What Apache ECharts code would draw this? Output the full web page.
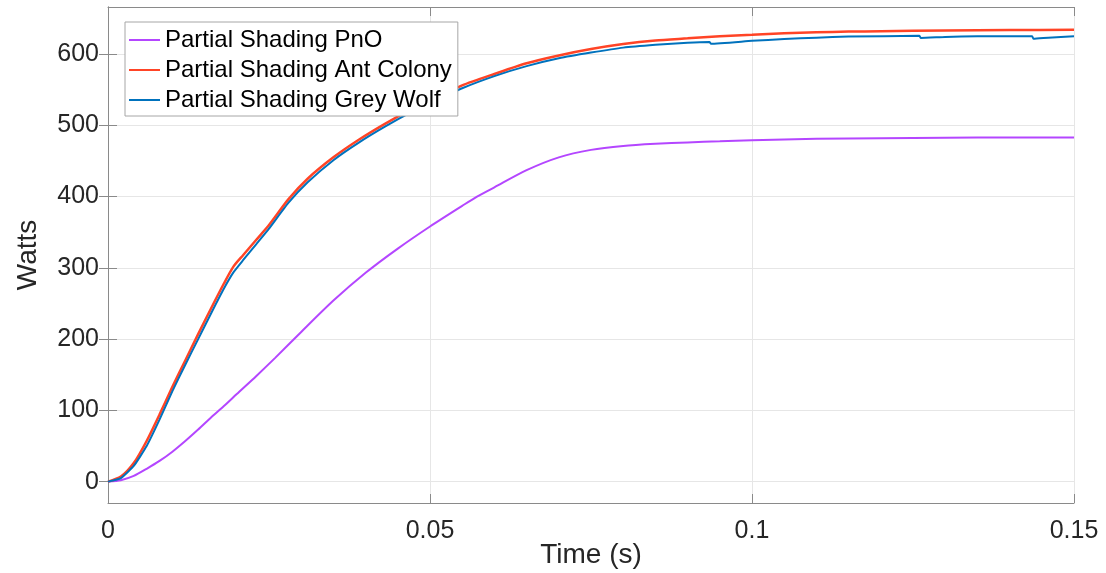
<!DOCTYPE html>
<html>
<head>
<meta charset="utf-8">
<script src="https://cdn.jsdelivr.net/npm/echarts@6/dist/echarts.min.js"></script>
<style>
  html, body { margin: 0; padding: 0; background: #fff; }
  #chart { width: 1106px; height: 573px; }
</style>
</head>
<body>
<div id="chart"></div>
<script>
// Power output under partial shading for three MPPT methods
const seriesNames = ['Partial Shading PnO', 'Partial Shading Ant Colony', 'Partial Shading Grey Wolf'];

const timePnO = [0, 0.002, 0.004, 0.006, 0.008, 0.010, 0.012, 0.014, 0.016, 0.018, 0.020, 0.023, 0.026, 0.030, 0.035, 0.040, 0.045, 0.050, 0.055, 0.0573, 0.060, 0.065, 0.070, 0.075, 0.080, 0.085, 0.090, 0.095, 0.100, 0.110, 0.120, 0.130, 0.140, 0.150];
const powerPnO = [0, 2, 8, 18, 29, 42, 57, 73, 90, 106, 123, 148, 174, 210, 254, 293, 327, 358, 387, 400, 413, 437, 455, 465.5, 471, 474, 476, 477.5, 479, 481, 482, 482.6, 483, 483];

const timeAnt = [0, 0.002, 0.004, 0.006, 0.008, 0.010, 0.012, 0.014, 0.016, 0.018, 0.0195, 0.021, 0.023, 0.025, 0.028, 0.031, 0.035, 0.039, 0.043, 0.047, 0.050, 0.055, 0.060, 0.065, 0.070, 0.075, 0.080, 0.085, 0.090, 0.095, 0.100, 0.105, 0.110, 0.115, 0.120, 0.130, 0.140, 0.150];
const powerAnt = [0, 7, 26, 57, 94, 133, 170, 207, 243, 278, 302, 318, 339, 360, 396, 425, 455, 480, 502, 522, 535, 556, 572, 587, 598, 607, 614, 619, 622, 625, 627, 629, 630.5, 631.5, 632, 633, 633.7, 634];

const timeWolf = [0, 0.002, 0.004, 0.006, 0.008, 0.010, 0.012, 0.014, 0.016, 0.018, 0.0195, 0.021, 0.023, 0.025, 0.028, 0.031, 0.035, 0.039, 0.043, 0.047, 0.050, 0.055, 0.060, 0.065, 0.070, 0.075, 0.080, 0.085, 0.090, 0.0934, 0.0936, 0.100, 0.105, 0.110, 0.115, 0.1260, 0.1262, 0.130, 0.135, 0.1435, 0.1437, 0.146, 0.150];
const powerWolf = [0, 5, 22, 50, 87, 127, 164, 200, 236, 271, 294, 311, 333, 355, 391, 420, 451, 476, 498, 518, 531, 552, 569, 583, 594, 602, 609, 613, 616, 617, 614.5, 618.5, 621, 623, 624.5, 625.5, 622.5, 624, 624.8, 625, 621.5, 623, 624.8];

const yTicks = [0, 100, 200, 300, 400, 500, 600];

const zip = (xs, ys) => xs.map((x, i) => [x, ys[i]]);

const frameColor = '#8a8a8a';
const textColor = '#262626';
const fontFamily = 'Liberation Sans, Arial, Helvetica, sans-serif';

const chart = echarts.init(document.getElementById('chart'), null, { renderer: 'canvas' });

const yCommon = {
  type: 'value',
  min: -30,
  max: 666,
  axisLine: { show: true, lineStyle: { color: frameColor, width: 1 } },
  axisTick: { show: true, inside: true, length: 9, customValues: yTicks, lineStyle: { color: frameColor } }
};

const xCommon = {
  type: 'value',
  min: 0,
  max: 0.15,
  interval: 0.05,
  axisLine: { show: true, onZero: false, lineStyle: { color: frameColor, width: 1 } },
  axisTick: { show: true, inside: true, length: 9, lineStyle: { color: frameColor } }
};

// thin bar used as the legend swatch, so each entry shows a plain line
const lineIcon = 'path://M0,0 L31,0 L31,2 L0,2 Z';

chart.setOption({
  backgroundColor: '#fff',
  animation: false,
  grid: { left: 108, right: 32, top: 7, bottom: 70, containLabel: false, outerBoundsMode: 'none' },
  legend: {
    data: seriesNames.map(n => ({ name: n, icon: lineIcon })),
    orient: 'vertical',
    left: 125,
    top: 22,
    padding: [3, 6, 1, 4],
    itemGap: 0,
    itemWidth: 31,
    itemHeight: 2,
    backgroundColor: '#fff',
    borderColor: '#a6a6a6',
    borderWidth: 1,
    borderRadius: 0,
    textStyle: { fontSize: 24, color: '#000', fontFamily: fontFamily, lineHeight: 30 }
  },
  xAxis: [
    Object.assign({}, xCommon, {
      position: 'bottom',
      name: 'Time (s)',
      nameLocation: 'middle',
      nameGap: 38,
      nameMoveOverlap: false,
      nameTextStyle: { fontSize: 28, color: textColor, fontFamily: fontFamily },
      axisLabel: {
        show: true, margin: 16, fontSize: 25, color: textColor, fontFamily: fontFamily,
        formatter: v => String(+v.toFixed(4))
      },
      splitLine: { show: true, lineStyle: { color: '#e6e6e6', width: 1 } }
    }),
    Object.assign({}, xCommon, {
      position: 'top',
      axisLabel: { show: false },
      splitLine: { show: false }
    })
  ],
  yAxis: [
    Object.assign({}, yCommon, {
      position: 'left',
      name: 'Watts',
      nameLocation: 'middle',
      nameGap: 66,
      nameMoveOverlap: false,
      nameRotate: 90,
      nameTextStyle: { fontSize: 28, color: textColor, fontFamily: fontFamily },
      axisLabel: { show: true, margin: 9, fontSize: 25, color: textColor, fontFamily: fontFamily, customValues: yTicks },
      splitLine: { show: true, lineStyle: { color: '#e6e6e6', width: 1 } }
    }),
    Object.assign({}, yCommon, {
      position: 'right',
      axisLabel: { show: false },
      splitLine: { show: false }
    })
  ],
  series: [
    {
      name: seriesNames[0], type: 'line', xAxisIndex: 0, yAxisIndex: 0,
      data: zip(timePnO, powerPnO), showSymbol: false, symbol: 'none',
      smooth: 0.25,
      lineStyle: { color: '#B446FF', width: 2 }, itemStyle: { color: '#B446FF' }
    },
    {
      name: seriesNames[1], type: 'line', xAxisIndex: 0, yAxisIndex: 0,
      data: zip(timeAnt, powerAnt), showSymbol: false, symbol: 'none',
      smooth: 0.25,
      lineStyle: { color: '#FF4426', width: 2.5 }, itemStyle: { color: '#FF4426' }
    },
    {
      name: seriesNames[2], type: 'line', xAxisIndex: 0, yAxisIndex: 0,
      data: zip(timeWolf, powerWolf), showSymbol: false, symbol: 'none',
      smooth: 0.15,
      lineStyle: { color: '#0072BD', width: 2 }, itemStyle: { color: '#0072BD' }
    }
  ]
});
</script>
</body>
</html>
